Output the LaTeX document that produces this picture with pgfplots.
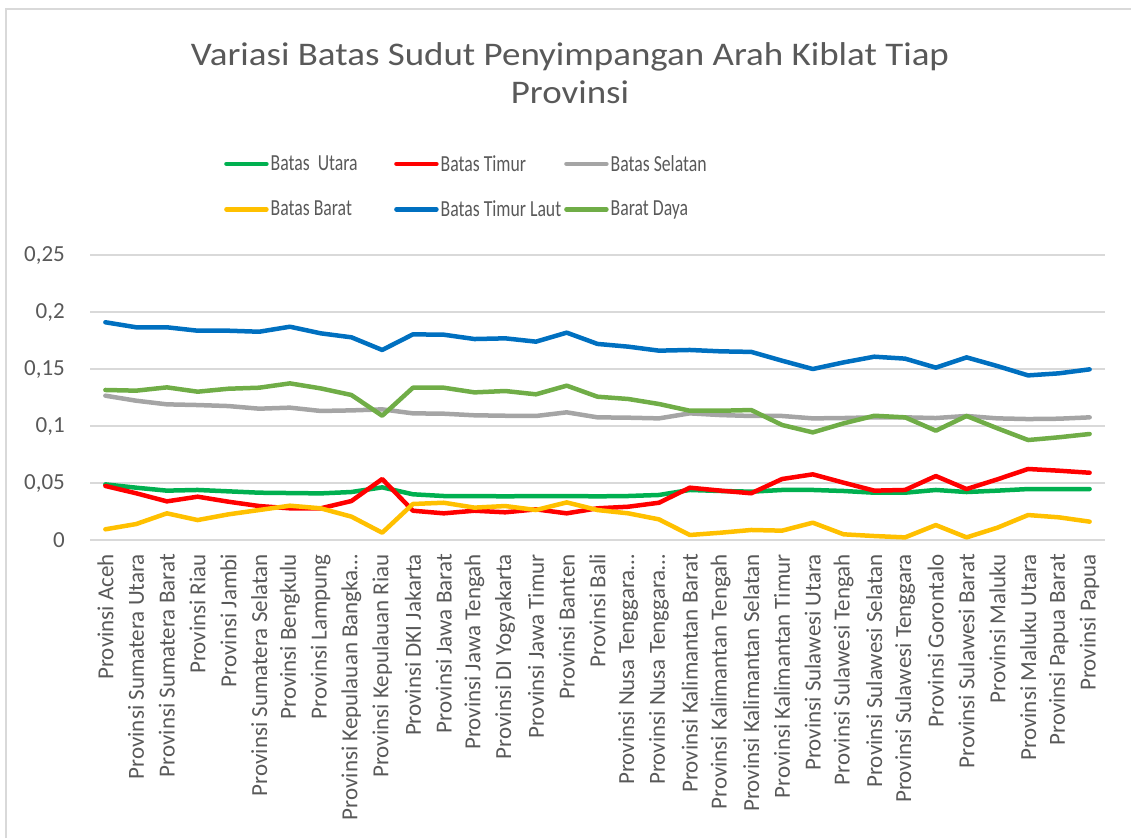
\documentclass[border=0pt]{standalone}
\usepackage{fontspec}
\setmainfont{Carlito}
\newfontfamily\legendfont[FakeStretch=0.77]{Carlito}
\newfontfamily\titlefont[FakeStretch=1.12]{Carlito}
\usepackage{pgfplots}
\usepackage{pgfplotstable}
\pgfplotsset{compat=1.18}

\definecolor{txt}{HTML}{595959}
\definecolor{gridc}{HTML}{D9D9D9}
\definecolor{cUtara}{HTML}{00B050}
\definecolor{cTimur}{HTML}{FF0000}
\definecolor{cSelatan}{HTML}{A5A5A5}
\definecolor{cBarat}{HTML}{FFC000}
\definecolor{cLaut}{HTML}{0070C0}
\definecolor{cDaya}{HTML}{70AD47}

\newcommand{\lent}[1]{\makebox[121.5pt][l]{#1}}

% i, utara, timur, selatan, barat, timur laut, barat daya
\pgfplotstableread{
i  u      t      s      b      l      d
0  0.0488 0.0474 0.1266 0.0094 0.1910 0.1316
1  0.0459 0.0410 0.1222 0.0140 0.1866 0.1310
2  0.0433 0.0339 0.1190 0.0234 0.1866 0.1339
3  0.0439 0.0380 0.1184 0.0175 0.1836 0.1301
4  0.0427 0.0336 0.1175 0.0225 0.1836 0.1327
5  0.0415 0.0298 0.1152 0.0263 0.1827 0.1336
6  0.0412 0.0278 0.1161 0.0301 0.1871 0.1374
7  0.0409 0.0278 0.1132 0.0278 0.1813 0.1330
8  0.0421 0.0342 0.1137 0.0205 0.1778 0.1272
9  0.0462 0.0535 0.1146 0.0064 0.1667 0.1090
10 0.0401 0.0257 0.1111 0.0316 0.1804 0.1336
11 0.0386 0.0234 0.1108 0.0327 0.1801 0.1336
12 0.0386 0.0257 0.1094 0.0284 0.1763 0.1295
13 0.0383 0.0243 0.1090 0.0298 0.1769 0.1307
14 0.0386 0.0269 0.1088 0.0263 0.1740 0.1278
15 0.0386 0.0234 0.1120 0.0330 0.1819 0.1354
16 0.0383 0.0278 0.1076 0.0263 0.1720 0.1257
17 0.0386 0.0292 0.1073 0.0234 0.1696 0.1237
18 0.0395 0.0327 0.1067 0.0181 0.1661 0.1193
19 0.0439 0.0459 0.1111 0.0044 0.1667 0.1134
20 0.0430 0.0433 0.1096 0.0064 0.1655 0.1134
21 0.0424 0.0410 0.1088 0.0088 0.1650 0.1140
22 0.0439 0.0535 0.1088 0.0082 0.1573 0.1009
23 0.0439 0.0576 0.1067 0.0152 0.1500 0.0944
24 0.0430 0.0503 0.1070 0.0050 0.1558 0.1023
25 0.0415 0.0433 0.1076 0.0035 0.1608 0.1090
26 0.0415 0.0439 0.1076 0.0023 0.1591 0.1076
27 0.0439 0.0561 0.1070 0.0131 0.1512 0.0959
28 0.0421 0.0447 0.1088 0.0023 0.1602 0.1088
29 0.0433 0.0532 0.1067 0.0108 0.1526 0.0980
30 0.0447 0.0623 0.1061 0.0219 0.1444 0.0877
31 0.0447 0.0608 0.1064 0.0199 0.1462 0.0901
32 0.0447 0.0590 0.1076 0.0161 0.1497 0.0930
}\data

\begin{document}
\begin{tikzpicture}
\useasboundingbox (0,0) rectangle (1131pt,-838pt);
% chart frame (only left and top edges are inside the picture)
\draw[gridc, line width=1.5pt] (6pt,-838pt) -- (6pt,-9pt) -- (1131pt,-9pt);
\node[anchor=base, text=txt, font=\titlefont\fontsize{33}{40}\selectfont] at (570pt,-65pt)
  {Variasi Batas Sudut Penyimpangan Arah Kiblat Tiap};
\node[anchor=base, text=txt, font=\titlefont\fontsize{33}{40}\selectfont] at (570pt,-103pt)
  {Provinsi};
\begin{axis}[
    at={(90pt,-540pt)}, anchor=south west,
    scale only axis, width=1015pt, height=285pt,
    xmin=-0.5, xmax=32.5, ymin=0, ymax=0.25,
    clip=false,
    axis line style={draw=none},
    tick style={draw=none},
    ymajorgrids=true,
    major grid style={gridc, line width=1.5pt},
    ytick={0,0.05,0.1,0.15,0.2,0.25},
    yticklabels={0,{0,05},{0,1},{0,15},{0,2},{0,25}},
    xtick={0,...,32},
    xticklabels={Provinsi Aceh, Provinsi Sumatera Utara, Provinsi Sumatera Barat,
      Provinsi Riau, Provinsi Jambi, Provinsi Sumatera Selatan, Provinsi Bengkulu,
      Provinsi Lampung, Provinsi Kepulauan Bangka…, Provinsi Kepulauan Riau,
      Provinsi DKI Jakarta, Provinsi Jawa Barat, Provinsi Jawa Tengah,
      Provinsi DI Yogyakarta, Provinsi Jawa Timur, Provinsi Banten, Provinsi Bali,
      Provinsi Nusa Tenggara…, Provinsi Nusa Tenggara…, Provinsi Kalimantan Barat,
      Provinsi Kalimantan Tengah, Provinsi Kalimantan Selatan,
      Provinsi Kalimantan Timur, Provinsi Sulawesi Utara, Provinsi Sulawesi Tengah,
      Provinsi Sulawesi Selatan, Provinsi Sulawesi Tenggara, Provinsi Gorontalo,
      Provinsi Sulawesi Barat, Provinsi Maluku, Provinsi Maluku Utara,
      Provinsi Papua Barat, Provinsi Papua},
    tick label style={font=\fontsize{23}{27}\selectfont, text=txt},
    xticklabel style={rotate=90, anchor=east, inner sep=0pt},
    xticklabel shift=14pt,
    yticklabel style={inner sep=0pt},
    yticklabel shift=25pt,
    every axis plot/.append style={line width=4.5pt, line join=round, line cap=round},
    legend columns=3,
    legend cell align=left,
    legend image code/.code={\draw[#1] (0pt,0pt) -- (40pt,0pt);},
    legend style={at={(0.132,1.358)}, anchor=north west, draw=none, fill=none,
      inner sep=0pt, row sep=24pt, column sep=0pt,
      font=\legendfont\fontsize{23}{27}\selectfont, text=txt,
      nodes={inner xsep=2pt}},
  ]
  \addplot[cUtara] table[x=i, y=u] {\data};
  \addlegendentry{\lent{Batas\ \ Utara}}
  \addplot[cTimur] table[x=i, y=t] {\data};
  \addlegendentry{\lent{Batas Timur}}
  \addplot[cSelatan] table[x=i, y=s] {\data};
  \addlegendentry{\lent{Batas Selatan}}
  \addplot[cBarat] table[x=i, y=b] {\data};
  \addlegendentry{\lent{Batas Barat}}
  \addplot[cLaut] table[x=i, y=l] {\data};
  \addlegendentry{\lent{Batas Timur Laut}}
  \addplot[cDaya] table[x=i, y=d] {\data};
  \addlegendentry{\lent{Barat Daya}}
\end{axis}
\end{tikzpicture}
\end{document}
